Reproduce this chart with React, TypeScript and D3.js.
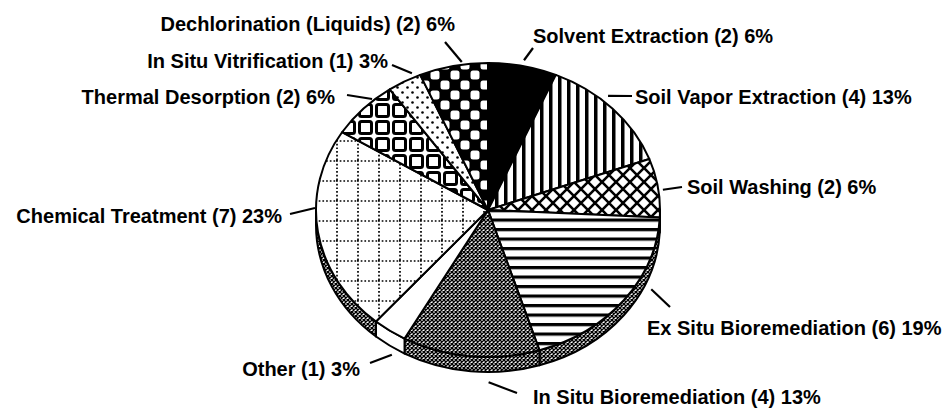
import React from "react"
import * as d3 from "d3"

// slice data, clockwise from 12 o'clock
const categories = [
  "Solvent Extraction",
  "Soil Vapor Extraction",
  "Soil Washing",
  "Ex Situ Bioremediation",
  "In Situ Bioremediation",
  "Other",
  "Chemical Treatment",
  "Thermal Desorption",
  "In Situ Vitrification",
  "Dechlorination (Liquids)",
]
const counts = [2, 4, 2, 6, 4, 1, 7, 2, 1, 2]
const percents = [6, 13, 6, 19, 13, 3, 23, 6, 3, 6]

// fill pattern per slice (styles only)
const sliceFills = ["#000", "url(#vlines)", "url(#diamonds)", "url(#hlines)", "url(#stipple)", "#fff", "url(#dotgrid)", "url(#squares)", "url(#dots)", "url(#checker)"]

// label placement: text anchor, leader angle nudge (deg), gap factor, leader outer end
const labelLayout = [
  { x: 533, y: 36, anchor: "start", nudge: 0, k: 1.04, ox: 533, oy: 48 },
  { x: 635, y: 97, anchor: "start", nudge: -4.5, k: 1.044, ox: 632, oy: 96 },
  { x: 687, y: 187, anchor: "start", nudge: 1, k: 1.026, ox: 682, oy: 187 },
  { x: 647, y: 328, anchor: "start", nudge: -13, k: 1.045, ox: 670, oy: 307 },
  { x: 533, y: 397, anchor: "start", nudge: -6, k: 1.07, ox: 517, oy: 393 },
  { x: 360, y: 369, anchor: "end", nudge: -2.5, k: 1.045, ox: 370, oy: 363 },
  { x: 282, y: 216, anchor: "end", nudge: 9.5, k: 1.006, ox: 290, oy: 214 },
  { x: 335, y: 97, anchor: "end", nudge: 4.7, k: 1.012, ox: 347, oy: 95 },
  { x: 388, y: 61, anchor: "end", nudge: 3.6, k: 1.03, ox: 392, oy: 65 },
  { x: 455, y: 24, anchor: "end", nudge: 3, k: 1.018, ox: 445, oy: 42 },
]

const W = 944
const H = 409
const cx = 488
const cy = 210
const rx = 172
const ry = 147
const depth = 15

const pt = (a: number, k = 1, dy = 0): [number, number] => [cx + rx * k * Math.sin(a), cy - ry * k * Math.cos(a) + dy]

const data = categories.map((name, i) => ({ name, count: counts[i], pct: percents[i], fill: sliceFills[i] }))
type Datum = (typeof data)[number]

const App: React.FC = () => {
  const pie = d3.pie<Datum>().sort(null).value((d) => d.count)
  const arcs = pie(data)

  const topPath = (a0: number, a1: number) => {
    const [x0, y0] = pt(a0)
    const [x1, y1] = pt(a1)
    const large = a1 - a0 > Math.PI ? 1 : 0
    return `M${cx},${cy}L${x0},${y0}A${rx},${ry} 0 ${large} 1 ${x1},${y1}Z`
  }

  const sidePath = (a0: number, a1: number) => {
    const s = Math.max(a0, Math.PI / 2)
    const e = Math.min(a1, (3 * Math.PI) / 2)
    if (e <= s) return null
    const [x0, y0] = pt(s)
    const [x1, y1] = pt(e)
    return `M${x0},${y0}A${rx},${ry} 0 0 1 ${x1},${y1}L${x1},${y1 + depth}A${rx},${ry} 0 0 0 ${x0},${y0 + depth}Z`
  }

  return (
    <div style={{ position: "absolute", left: 0, top: 0 }}>
      <svg width={W} height={H} style={{ display: "block", background: "#fff" }}>
        <defs>
          <pattern id="vlines" width={9} height={10} patternUnits="userSpaceOnUse">
            <rect width={9} height={10} fill="#fff" />
            <rect x={0} width={3.5} height={10} fill="#000" />
          </pattern>
          <pattern id="hlines" width={10} height={9.5} patternUnits="userSpaceOnUse">
            <rect width={10} height={9.5} fill="#fff" />
            <rect y={0} width={10} height={3.2} fill="#000" />
          </pattern>
          <pattern id="diamonds" width={14} height={14} patternUnits="userSpaceOnUse">
            <rect width={14} height={14} fill="#fff" />
            <path d="M-2,-2L16,16M16,-2L-2,16" stroke="#000" strokeWidth={2.6} />
          </pattern>
          <pattern id="stipple" width={4} height={4} patternUnits="userSpaceOnUse">
            <rect width={4} height={4} fill="#fff" />
            <path d="M-1,-1L5,5M5,-1L-1,5" stroke="#000" strokeWidth={1.4} />
          </pattern>
          <pattern id="dotgrid" width={21} height={20} patternUnits="userSpaceOnUse">
            <rect width={21} height={20} fill="#fff" />
            <path d="M0,1H21M1,0V20" stroke="#000" strokeWidth={1.7} strokeDasharray="1.7 2" />
          </pattern>
          <pattern id="squares" width={17} height={17} patternUnits="userSpaceOnUse">
            <rect width={17} height={17} fill="#fff" />
            <rect x={2.5} y={2.5} width={12} height={12} rx={2} fill="#fff" stroke="#000" strokeWidth={3} />
          </pattern>
          <pattern id="dots" width={10} height={10} patternUnits="userSpaceOnUse">
            <rect width={10} height={10} fill="#fff" />
            <circle cx={2.5} cy={2.5} r={1.3} fill="#000" />
            <circle cx={7.5} cy={7.5} r={1.3} fill="#000" />
          </pattern>
          <pattern id="checker" width={20} height={20} patternUnits="userSpaceOnUse">
            <rect width={20} height={20} fill="#000" />
            <rect x={0.5} y={0.5} width={9} height={9} rx={2.5} fill="#fff" />
            <rect x={10.5} y={10.5} width={9} height={9} rx={2.5} fill="#fff" />
          </pattern>
        </defs>

        {/* visible side of the tilted pie */}
        <g>
          {arcs.map((a, i) => {
            const d = sidePath(a.startAngle, a.endAngle)
            if (!d) return null
            const fill = a.data.fill === "#fff" ? "#fff" : "url(#stipple)"
            return <path key={i} d={d} fill={fill} stroke="#000" strokeWidth={2} strokeLinejoin="round" />
          })}
        </g>

        {/* top surface */}
        <g>
          {arcs.map((a, i) => (
            <path key={i} d={topPath(a.startAngle, a.endAngle)} fill={a.data.fill} stroke="#000" strokeWidth={2} strokeLinejoin="round" />
          ))}
        </g>

        {/* labels with leader lines */}
        <g fontFamily="'Liberation Sans', Arial, Helvetica, sans-serif" fontWeight="bold" fontSize={20} fill="#000">
          {arcs.map((a, i) => {
            const L = labelLayout[i]
            const ang = (a.startAngle + a.endAngle) / 2 + (L.nudge * Math.PI) / 180
            const lower = Math.cos(ang) < 0
            const [ix, iy] = pt(ang, L.k, lower ? depth : 0)
            return (
              <g key={i}>
                <line x1={ix} y1={iy} x2={L.ox} y2={L.oy} stroke="#000" strokeWidth={2.2} />
                <text x={L.x} y={L.y} dy="0.35em" textAnchor={L.anchor as "start" | "end"}>
                  {`${a.data.name} (${a.data.count}) ${a.data.pct}%`}
                </text>
              </g>
            )
          })}
        </g>
      </svg>
    </div>
  )
}

export default App
